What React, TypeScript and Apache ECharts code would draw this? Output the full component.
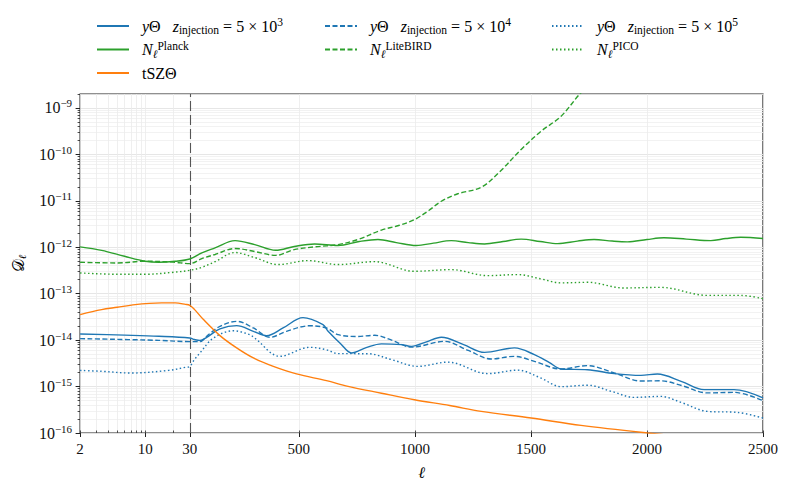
import React, { useEffect, useRef } from 'react';
import * as echarts from 'echarts';

const SERIF = "'Liberation Serif', 'DejaVu Serif', serif";
const BLUE = '#1f77b4';
const GREEN = '#2ca02c';
const ORANGE = '#ff7f0e';

// Axis ticks
const xMajorTicks = [2, 10, 30, 500, 1000, 1500, 2000, 2500];
const xMinorTicks = [3, 4, 5, 6, 7, 8, 9, 20];
const yDecades = [-16, -15, -14, -13, -12, -11, -10, -9];
const yMaxValue = 2e-9;
const yMinValue = 1e-16;

// N_ell Planck
const planckEll = [2, 3.4, 6, 10, 14, 21, 30, 82, 139, 225, 310, 400, 480, 568, 669, 760, 841, 920, 1006, 1080, 1157, 1230, 1300, 1380, 1458, 1540, 1615, 1700, 1772, 1850, 1916, 2000, 2073, 2170, 2275, 2340, 2404, 2500];
const planckVal = [1.02e-12, 8.6e-13, 6.4e-13, 5.0e-13, 4.75e-13, 5.0e-13, 5.6e-13, 7.6e-13, 9.7e-13, 1.39e-12, 1.14e-12, 8.6e-13, 1.04e-12, 1.18e-12, 1.09e-12, 1.33e-12, 1.47e-12, 1.26e-12, 1.09e-12, 1.23e-12, 1.39e-12, 1.26e-12, 1.18e-12, 1.33e-12, 1.5e-12, 1.33e-12, 1.2e-12, 1.36e-12, 1.47e-12, 1.36e-12, 1.31e-12, 1.47e-12, 1.6e-12, 1.5e-12, 1.39e-12, 1.54e-12, 1.64e-12, 1.54e-12];

// N_ell LiteBIRD
const litebirdEll = [2, 5, 10, 20, 30, 82, 139, 225, 310, 400, 480, 568, 669, 760, 856, 930, 999, 1060, 1114, 1185, 1286, 1365, 1458, 1544, 1630, 1716, 1800];
const litebirdVal = [4.75e-13, 4.6e-13, 5.0e-13, 4.8e-13, 4.45e-13, 5.7e-13, 7.0e-13, 9.4e-13, 8.1e-13, 6.7e-13, 8.9e-13, 1.02e-12, 1.14e-12, 1.5e-12, 2.35e-12, 2.94e-12, 3.95e-12, 6.2e-12, 9.8e-12, 1.42e-11, 1.96e-11, 4.2e-11, 1.28e-10, 3.16e-10, 6.65e-10, 2.13e-9, 5e-9];

// N_ell PICO
const picoEll = [2, 5, 10, 20, 30, 82, 139, 225, 310, 411, 540, 669, 826, 998, 1157, 1314, 1443, 1540, 1630, 1744, 1900, 2059, 2260, 2404, 2500];
const picoVal = [2.8e-13, 2.62e-13, 2.62e-13, 2.89e-13, 3.19e-13, 3.7e-13, 4.9e-13, 7.7e-13, 6.0e-13, 4.24e-13, 5.17e-13, 4.24e-13, 4.9e-13, 3.04e-13, 3.3e-13, 2.45e-13, 2.58e-13, 2.1e-13, 1.71e-13, 1.76e-13, 1.33e-13, 1.37e-13, 9.2e-14, 9.2e-14, 7.8e-14];

// tSZ Theta
const tszEll = [2, 3.4, 5, 7.8, 11, 15, 21, 27, 30, 50, 89, 160, 232, 304, 390, 490, 619, 712, 856, 998, 1150, 1286, 1501, 1716, 2002, 2250, 2500];
const tszVal = [3.55e-14, 4.54e-14, 5.1e-14, 5.82e-14, 6.2e-14, 6.34e-14, 6.34e-14, 5.9e-14, 5.62e-14, 4.6e-14, 2.77e-14, 1.25e-14, 6.8e-15, 4.13e-15, 2.72e-15, 1.87e-15, 1.34e-15, 1.01e-15, 7.2e-16, 5.2e-16, 3.9e-16, 2.92e-16, 2.1e-16, 1.46e-16, 1.0e-16, 7.5e-17, 5.8e-17];

// y Theta, z_injection = 5e3
const y3Ell = [2, 6, 14, 30, 50, 74, 103, 160, 232, 304, 361, 432, 518, 604, 626, 680, 727, 790, 856, 942, 985, 1050, 1114, 1210, 1300, 1429, 1515, 1580, 1630, 1744, 1859, 1974, 2045, 2150, 2246, 2375, 2500];
const y3Val = [1.36e-14, 1.28e-14, 1.21e-14, 1.11e-14, 1.03e-14, 9.8e-15, 1.15e-14, 1.74e-14, 2.05e-14, 1.55e-14, 1.25e-14, 1.83e-14, 3.05e-14, 2.16e-14, 1.55e-14, 8.4e-15, 5.3e-15, 6.9e-15, 8.3e-15, 8.0e-15, 7.35e-15, 9.2e-15, 1.15e-14, 8.0e-15, 5.46e-15, 6.8e-15, 4.87e-15, 3.27e-15, 2.39e-15, 2.31e-15, 1.9e-15, 1.74e-15, 1.87e-15, 1.28e-15, 8.6e-16, 8.6e-16, 5.7e-16];

// y Theta, z_injection = 5e4
const y4Ell = [2, 14, 30, 74, 110, 160, 232, 304, 375, 447, 547, 619, 669, 750, 827, 900, 985, 1128, 1230, 1329, 1429, 1515, 1630, 1744, 1859, 1974, 2059, 2150, 2260, 2375, 2500];
const y4Val = [1.08e-14, 9.9e-15, 9.3e-15, 9.3e-15, 1.3e-14, 1.98e-14, 2.54e-14, 1.83e-14, 1.15e-14, 1.55e-14, 2.04e-14, 1.83e-14, 1.31e-14, 1.2e-14, 1.27e-14, 1.0e-14, 7.06e-15, 9.4e-15, 6.0e-15, 3.93e-15, 4.48e-15, 3.49e-15, 2.39e-15, 2.82e-15, 1.96e-15, 1.32e-15, 1.33e-15, 1.05e-15, 7.3e-16, 7.5e-16, 4.97e-16];

// y Theta, z_injection = 5e5
const y5Ell = [2, 3.4, 7, 17.8, 27, 30, 50, 74, 132, 218, 289, 311, 418, 547, 619, 669, 798, 900, 1013, 1142, 1314, 1443, 1540, 1630, 1744, 1850, 1945, 2059, 2150, 2260, 2389, 2500];
const y5Val = [2.23e-15, 2.13e-15, 1.96e-15, 2.23e-15, 2.6e-15, 2.72e-15, 3.8e-15, 5.3e-15, 1.11e-14, 1.59e-14, 1.31e-14, 1.1e-14, 4.48e-15, 7.0e-15, 6.2e-15, 5.12e-15, 5.1e-15, 3.8e-15, 2.72e-15, 3.36e-15, 1.9e-15, 2.26e-15, 1.55e-15, 9.95e-16, 1.07e-15, 7.8e-16, 5.85e-16, 6.15e-16, 4.5e-16, 2.92e-16, 2.78e-16, 2.1e-16];

// Mixed x scale: log from 2 to 30, linear from 30 to 2500
const LOG_W = 110;
const LIN_W = 575;
const toU = (l: number) =>
  l <= 30 ? (Math.log10(l / 2) / Math.log10(15)) * LOG_W : LOG_W + ((l - 30) / 2470) * LIN_W;

const N_Y3 = 'y3';
const N_Y4 = 'y4';
const N_Y5 = 'y5';
const N_PL = 'planck';
const N_LB = 'litebird';
const N_PI = 'pico';
const N_TS = 'tsz';

const legendText: Record<string, string> = {
  [N_Y3]: '  {i|y}Θ   {i|z}{sub|injection} = 5 × 10{sup|3}',
  [N_Y4]: '  {i|y}Θ   {i|z}{sub|injection} = 5 × 10{sup|4}',
  [N_Y5]: '  {i|y}Θ   {i|z}{sub|injection} = 5 × 10{sup|5}',
  [N_PL]: '  {i|N}{subi|ℓ}{sup|Planck}',
  [N_LB]: '  {i|N}{subi|ℓ}{sup|LiteBIRD}',
  [N_PI]: '  {i|N}{subi|ℓ}{sup|PICO}',
  [N_TS]: '  tSZΘ',
};

const rich = {
  i: { fontFamily: SERIF, fontStyle: 'italic', fontSize: 16, lineHeight: 20, color: '#000' },
  sup: { fontFamily: SERIF, fontSize: 11.5, lineHeight: 10, verticalAlign: 'top', color: '#000' },
  sub: { fontFamily: SERIF, fontSize: 11.5, lineHeight: 10, verticalAlign: 'bottom', color: '#000' },
  subi: { fontFamily: SERIF, fontStyle: 'italic', fontSize: 11.5, lineHeight: 10, verticalAlign: 'bottom', color: '#000' },
};

const tickRich = {
  sup: { fontFamily: SERIF, fontSize: 11, lineHeight: 10, verticalAlign: 'top', color: '#111' },
};

function mkLine(name: string, ell: number[], vals: number[], color: string, type: any, z: number, extra: any = {}) {
  return {
    name,
    type: 'line',
    data: ell.map((l, i) => [toU(l), Math.log10(vals[i])]),
    symbol: 'none',
    showSymbol: false,
    smooth: 0.35,
    clip: true,
    z,
    lineStyle: { color, width: 1.4, type },
    itemStyle: { color },
    ...extra,
  };
}

export default function App() {
  const ref = useRef<HTMLDivElement>(null);
  useEffect(() => {
    if (!ref.current) return;
    const chart = echarts.init(ref.current, null, { renderer: 'svg' });
    const yMax = Math.log10(yMaxValue);
    const yMin = Math.log10(yMinValue);
    const yMinor: number[] = [];
    yDecades.forEach((d) => {
      for (let k = 1; k <= 9; k++) {
        const v = d + Math.log10(k);
        if (v <= yMax + 1e-9) yMinor.push(v);
      }
    });
    const xAll = [...xMajorTicks, ...xMinorTicks].map(toU);
    const xMajorU = xMajorTicks.map(toU);

    const legendBase = {
      orient: 'vertical',
      itemWidth: 32,
      itemHeight: 14,
      itemGap: 3.5,
      top: 11,
      itemStyle: { opacity: 0 },
      textStyle: { fontFamily: SERIF, fontSize: 16, color: '#000', lineHeight: 20, rich },
      formatter: (name: string) => legendText[name] || name,
      selectedMode: false,
    };

    const option: any = {
      animation: false,
      backgroundColor: '#fff',
      grid: {
        left: 78,
        right: 26,
        top: 94,
        bottom: 56,
        show: true,
        borderColor: '#222',
        borderWidth: 1.2,
        backgroundColor: 'transparent',
      },
      legend: [
        { ...legendBase, left: 91, data: [N_Y3, N_PL, N_TS] },
        { ...legendBase, left: 319, data: [N_Y4, N_LB] },
        { ...legendBase, left: 546, data: [N_Y5, N_PI] },
      ],
      xAxis: [
        {
          type: 'value',
          min: 0,
          max: LOG_W + LIN_W,
          axisLine: { show: false },
          axisTick: { show: true, customValues: xAll, inside: true, length: 2.5, lineStyle: { color: '#222', width: 0.8 } },
          axisLabel: {
            customValues: xMajorU,
            fontFamily: SERIF,
            fontSize: 15,
            color: '#111',
            margin: 8,
            formatter: (v: number) => {
              const hit = xMajorTicks.find((l) => Math.abs(toU(l) - v) < 0.5);
              return hit !== undefined ? String(hit) : '';
            },
          },
          splitLine: { show: true, lineStyle: { color: '#ebebeb', width: 0.8 } },
          name: 'ℓ',
          nameLocation: 'middle',
          nameGap: 31,
          nameTextStyle: { fontFamily: SERIF, fontStyle: 'italic', fontSize: 16, color: '#000' },
        },
        {
          type: 'value',
          min: 0,
          max: LOG_W + LIN_W,
          position: 'bottom',
          axisLine: { show: false },
          axisTick: { show: true, customValues: xMajorU, length: 4, lineStyle: { color: '#222', width: 1 } },
          axisLabel: { show: false },
          splitLine: { show: false },
        },
      ],
      yAxis: [
        {
          type: 'value',
          min: yMin,
          max: yMax,
          axisLine: { show: false },
          axisTick: { show: true, customValues: yMinor, length: 2.5, lineStyle: { color: '#222', width: 0.8 } },
          axisLabel: {
            customValues: yDecades,
            fontFamily: SERIF,
            fontSize: 16,
            color: '#111',
            lineHeight: 20,
            margin: 8,
            rich: tickRich,
            formatter: (v: number) => '10{sup|−' + Math.round(-v) + '}',
          },
          splitLine: { show: true, lineStyle: { color: '#efefef', width: 0.8 } },
          name: '𝒟{sub|ℓ}',
          nameLocation: 'middle',
          nameRotate: 90,
          nameGap: 40,
          nameTextStyle: {
            fontFamily: SERIF,
            fontSize: 16,
            color: '#000',
            lineHeight: 20,
            rich: { sub: { fontFamily: SERIF, fontStyle: 'italic', fontSize: 10.5, lineHeight: 10, verticalAlign: 'bottom' } },
          },
        },
        {
          type: 'value',
          min: yMin,
          max: yMax,
          position: 'left',
          axisLine: { show: false },
          axisTick: { show: true, customValues: yDecades, length: 4.5, lineStyle: { color: '#222', width: 1 } },
          axisLabel: { show: false },
          splitLine: { show: true, lineStyle: { color: '#e2e2e2', width: 0.8 } },
        },
      ],
      series: [
        mkLine(N_Y3, y3Ell, y3Val, BLUE, 'solid', 5, {
          markLine: {
            silent: true,
            symbol: 'none',
            label: { show: false },
            lineStyle: { color: '#555', type: [10, 4], width: 1.1 },
            data: [{ xAxis: toU(30) }],
          },
        }),
        mkLine(N_Y4, y4Ell, y4Val, BLUE, [5, 2.5], 5),
        mkLine(N_Y5, y5Ell, y5Val, BLUE, [1.5, 2.5], 5),
        mkLine(N_PL, planckEll, planckVal, GREEN, 'solid', 5),
        mkLine(N_LB, litebirdEll, litebirdVal, GREEN, [5, 2.5], 5),
        mkLine(N_PI, picoEll, picoVal, GREEN, [1.5, 2.5], 5),
        mkLine(N_TS, tszEll, tszVal, ORANGE, 'solid', 5),
      ],
    };
    chart.setOption(option);
    return () => chart.dispose();
  }, []);
  return <div ref={ref} style={{ position: 'fixed', left: 0, top: 0, width: 789, height: 489, background: '#fff' }} />;
}
